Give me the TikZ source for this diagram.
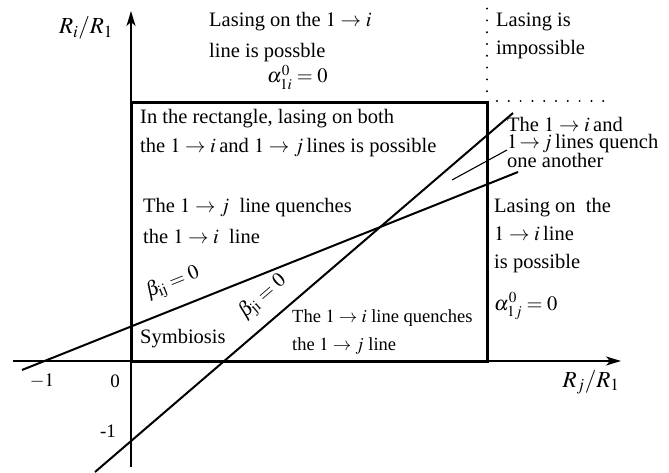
\documentclass[tikz,border=0pt]{standalone}
\usepackage{mathptmx}
\usepackage{fontspec}
\setmainfont{Liberation Serif}
\usetikzlibrary{arrows.meta}

\begin{document}
\begin{tikzpicture}[x=1pt, y=-1pt,
  every node/.style={inner sep=0pt},
  lbl/.style={anchor=base west, align=left, font=\fontsize{20.5}{30}\selectfont},
  small/.style={lbl, font=\fontsize{18.5}{28}\selectfont},
  tick/.style={font=\fontsize{19}{20}\selectfont},
  axis/.style={line width=1.3pt, -{Stealth[length=15pt, width=9pt, inset=4pt]}},
  frame/.style={line width=3pt},
  rel/.style={line width=2pt},
  dots/.style={line width=2.2pt, line cap=round, dash pattern=on 0pt off 11.8pt}]
\useasboundingbox (0,0) rectangle (669,473);
\coordinate (O) at (131,361);
\coordinate (xs) at (13,361);
\coordinate (xe) at (621,361);
\coordinate (ys) at (131,467);
\coordinate (ye) at (131,11);
\coordinate (C) at (487,103);
\coordinate (ct) at (487,8);
\coordinate (cr) at (606,101);
\coordinate (ija) at (22,370);
\coordinate (ijb) at (518,172);
\coordinate (jia) at (95,472);
\coordinate (jib) at (513,113);
\coordinate (lda) at (452,180);
\coordinate (ldb) at (507,150);
\draw[frame] (O) rectangle (C);
\draw[axis] (xs) -- (xe);
\draw[axis] (ys) -- (ye);
\draw[dots] (C) -- (ct);
\draw[dots] (497,101) -- (cr);
\draw[rel] (ija) -- (ijb);
\draw[rel] (jia) -- (jib);
\draw[line width=1.1pt] (lda) -- (ldb);
\node[tick, font=\fontsize{23}{26}\selectfont] (ri) at (86,28) {$R_i/R_1$};
\node[tick, font=\fontsize{23}{26}\selectfont] (rj) at (591,382) {$R_j/R_1$};
\node[tick] (m1x) at (42,381) {$-1$};
\node[tick] (zero) at (115,381) {0};
\node[tick] (m1y) at (108,431) {-1};
\node[lbl, font=\fontsize{20.5}{31}\selectfont] (top) at (209,58) {Lasing on the $1\rightarrow i$\\line is possble};
\node[lbl] (a1i) at (267,83) {$\alpha^0_{1i}=0$};
\node[lbl, font=\fontsize{20.5}{28}\selectfont] (imp) at (496,55) {Lasing is\\impossible};
\node[lbl, font=\fontsize{20.5}{29}\selectfont] (both) at (140,153) {In the rectangle, lasing on both\\the $1\rightarrow i$\,and $1\rightarrow j$\,lines is possible};
\node[lbl] (jq) at (143,243) {The $1\rightarrow j$\ \ line quenches\\the $1\rightarrow i$\ \ line};
\node[lbl] (sym) at (140,343) {Symbiosis};
\node[small] (iq) at (292,350) {The $1\rightarrow i$ line quenches\\the $1\rightarrow j$ line};
\node[lbl, font=\fontsize{20.5}{16.5}\selectfont] (mut) at (507,168) {The $1\rightarrow i$\,and\\$1\!\rightarrow\! j$\,lines quench\\one another};
\node[lbl, font=\fontsize{20.5}{28}\selectfont] (rgt) at (494,268) {Lasing on\ \ the\\$1\rightarrow i$\,line\\is possible};
\node[lbl] (a1j) at (494,310) {$\alpha^0_{1j}=0$};
\node[lbl, anchor=center, rotate=21.8] (bij) at (173,283) {$\beta_{\mathrm{ij}}=0$};
\node[lbl, anchor=center, rotate=40.7] (bji) at (263,297) {$\beta_{\mathrm{ji}}=0$};
\end{tikzpicture}
\end{document}
